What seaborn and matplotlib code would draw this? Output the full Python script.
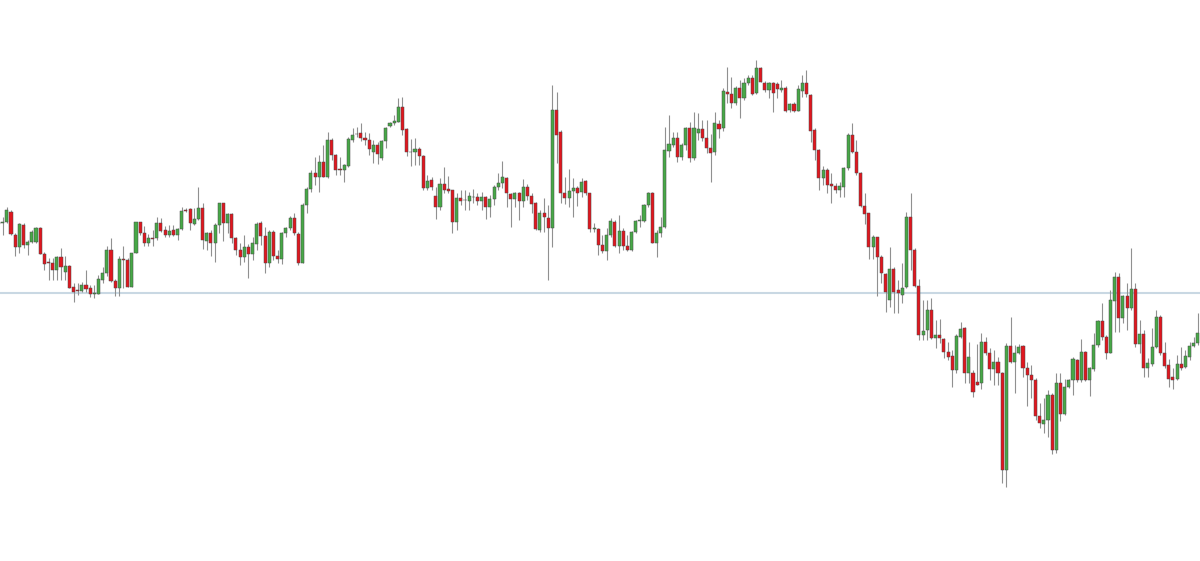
import numpy as np
import pandas as pd
import matplotlib
matplotlib.use("Agg")
import matplotlib.pyplot as plt
import seaborn as sns

# Candle values, given in pips below 1.1500
# (so a bigger number means a lower price).
open_pips = [
    224, 223.3, 221.7, 211.7, 235, 247, 225, 245, 241.7, 241.7,
    228.3, 254, 262, 262.7, 270, 257.3, 271.7, 266, 287, 290,
    290.7, 285, 288.3, 293.7, 294, 280, 273.3, 250, 280.7, 288.3,
    259.3, 260, 286.7, 253.3, 222.3, 233.3, 243.3, 238.3, 238.3, 223.3,
    230, 235, 230, 235, 229, 210, 209.3, 224, 219.3, 208.3,
    240.7, 232.7, 243.3, 225, 203.3, 223.3, 214, 238.3, 250, 256.7,
    246.7, 254, 244, 223.3, 235.7, 263.3, 231.7, 255.7, 259, 233.3,
    228.3, 217.7, 234, 263.3, 205, 189.3, 173.3, 177.3, 161.7, 177.3,
    140, 155, 169.3, 170, 166, 140, 134.3, 133.3, 138.3, 140,
    151.7, 145, 158.3, 141, 126, 123.3, 121.7, 106.7, 129.3, 151.5,
    151.7, 149.3, 156, 187.7, 180, 196, 207.3, 184, 189.3, 190,
    222.3, 198.3, 200, 200.7, 197.3, 196.7, 201, 197.3, 207.3, 199.3,
    187.3, 183.3, 178.3, 194.3, 199, 192.7, 201, 186.7, 196, 203.3,
    230, 213.3, 218.3, 228.3, 110, 131.7, 193.3, 198.3, 191, 188.3,
    191.7, 181, 193.3, 229, 229.3, 245, 250.7, 235, 221.7, 245.7,
    230.7, 245.7, 250, 231.7, 220.7, 220.7, 205, 192.7, 242.7, 233.3,
    227.3, 151, 145, 138.3, 156.7, 145, 128.3, 158.3, 133.3, 129,
    138.3, 147.7, 152.3, 124.3, 128.3, 91.7, 94.3, 102.7, 88.3, 98.3,
    83.3, 78.3, 93.3, 67.7, 82.7, 90, 83.3, 84, 90, 88.3,
    110, 104.3, 111, 90.7, 82.7, 95, 130, 150, 178.3, 170,
    184, 186, 190, 186.7, 167.7, 135, 151.7, 173.3, 205.7, 213.3,
    247.3, 237.3, 256.7, 274.3, 300, 269.3, 290, 295, 287.3, 217.3,
    250, 286, 335.3, 330, 310, 338.3, 335, 339.3, 351.7, 356,
    370, 336.7, 328.3, 373.3, 372.7, 382, 382.7, 341.7, 352.7, 369.3,
    361.7, 373.3, 470, 346, 361.7, 352.7, 346, 367.7, 375, 380,
    416, 424, 420, 395, 450, 382.7, 414, 387.3, 380, 360,
    380, 351.7, 380, 369.3, 345, 320.7, 337.3, 352.7, 300.7, 277.3,
    318.3, 296, 308.3, 289.3, 344, 334.3, 368.3, 364, 347.3, 317.3,
    352.7, 365, 376.7, 379.3, 364, 366.7, 356.7, 346, 343.3,
]
high_pips = [
    213, 216.7, 206.7, 210, 233, 223, 222.7, 240, 230, 226.7,
    227, 252, 258.3, 258.3, 256, 248.3, 256, 265, 282.7, 283.3,
    281.7, 270, 285, 285, 275, 266.7, 246, 238.3, 279.3, 256,
    246, 258.3, 253.3, 221.7, 221.7, 226, 234, 230, 216.7, 217.7,
    226, 225, 225, 228.3, 206.7, 208.3, 208.3, 208.3, 186.7, 203.3,
    231.7, 230, 223.3, 202.7, 202.7, 212.7, 212.7, 236.7, 242.7, 235,
    244, 236.7, 221.7, 220.7, 227.3, 230, 230, 250, 231.7, 226.7,
    216, 213.3, 232, 203.3, 186.7, 170, 157.3, 155, 145, 131.7,
    138.3, 154, 156.7, 164, 136.7, 128.3, 127.3, 123.3, 131.7, 132.7,
    140, 141.7, 140, 126.7, 121.7, 115, 98.3, 96.7, 128.3, 139.3,
    137.7, 146.7, 155, 175, 177.3, 186.7, 178.3, 167.3, 176, 190,
    193.3, 190, 190, 191.7, 189.3, 193.3, 191.7, 196, 195, 185,
    172.7, 161, 176.7, 193.3, 191.7, 191.7, 178.7, 184, 193.3, 201.7,
    210, 198.3, 205, 85, 91.7, 130, 176.7, 169.3, 177.7, 186,
    177.7, 180, 192.7, 223.3, 228.3, 235, 228.3, 218.3, 220, 215,
    228.3, 235, 230.7, 220, 215, 204, 191.7, 191.7, 230, 216.7,
    126.7, 115, 131.7, 131.7, 143.3, 126.7, 121.7, 111.7, 113.3, 120,
    120, 134.3, 111.7, 120, 88.3, 66.7, 76.7, 85.7, 80, 78.3,
    75, 75, 60, 66.7, 81, 81.7, 81.7, 81.7, 80, 85.7,
    103.3, 102.3, 85, 75, 70, 94.3, 128.3, 149.3, 166, 168.3,
    173.3, 182.7, 181.7, 166.7, 133.3, 122.7, 140, 171.7, 193.3, 212.7,
    235, 236.7, 255, 273.3, 246.7, 266.7, 280, 263.3, 211.7, 193.3,
    248.3, 279.3, 300, 300, 298.3, 320, 319.3, 338.3, 341.7, 350,
    334, 321.7, 326.7, 341.7, 370, 344, 332.7, 336.7, 348.3, 350,
    356.7, 371.7, 343.3, 316.7, 345, 344, 345, 361.7, 365, 378.3,
    403.3, 398.3, 390, 393.3, 372.7, 372.7, 379.3, 379.3, 357.3, 359.3,
    339.3, 350.7, 366.7, 333.3, 320, 302.7, 335, 290, 271.7, 273.3,
    295, 283.3, 248.3, 283.3, 320, 330, 358.3, 328.3, 310, 315,
    341.7, 359.3, 368.3, 355, 346.7, 350, 341.7, 336.7, 312.7,
]
low_pips = [
    226, 235, 223, 235, 256, 253, 248, 255, 243, 243.3,
    254, 270, 280, 280, 280, 280, 280, 288.3, 301.7, 295,
    291.7, 291.7, 296.7, 298.3, 294, 283.3, 276, 281.7, 296, 296,
    288.3, 286.7, 287, 253.3, 235, 246, 246, 246, 240, 231.7,
    236.7, 236.7, 236, 240, 230, 211.7, 230, 225, 220, 249.3,
    250, 255.7, 261.7, 232.7, 240.7, 232.7, 243.3, 255, 265, 261.7,
    278.3, 260, 250, 245, 273.3, 266.7, 260, 263.3, 264.3, 236.7,
    230, 235, 265, 263.3, 212.7, 191.7, 185, 191.7, 177.3, 178.3,
    160, 175, 175, 181.7, 166.7, 141.7, 136.7, 140.7, 145, 155,
    162.7, 164, 160, 148.3, 127.3, 125, 121.7, 135, 156, 166,
    165, 165, 190, 190, 190, 219.3, 210, 193.3, 192.7, 233.3,
    230, 205, 210, 210, 202.7, 205, 210, 219.3, 216.7, 205,
    190, 188.3, 207.3, 226.7, 206.7, 220, 206.7, 200, 213.3, 230,
    231.7, 231.7, 280, 246.7, 163.3, 203.3, 204, 206.7, 216.7, 206,
    196.7, 195, 231.7, 231.7, 255, 253.3, 260, 236.7, 246.7, 253.3,
    250, 250.7, 250.7, 233.3, 226.7, 221.7, 206.7, 243.3, 256.7, 236.7,
    228.3, 156.7, 146.7, 161.7, 160, 150, 161.7, 160, 140, 141,
    153.3, 181.7, 155, 138.3, 131, 103.3, 108.3, 105, 118.3, 100,
    85, 95, 94.3, 81.7, 91.7, 98.3, 111.7, 98.3, 91.7, 111.7,
    111.7, 111.7, 111, 97.3, 96.7, 141.7, 160, 190, 185, 192.7,
    202.7, 193.3, 196.7, 196.7, 170, 153.3, 175, 206.7, 224, 259.3,
    259.3, 296, 282.7, 311.7, 306.7, 313.3, 313.3, 302.7, 288.3, 270,
    286.7, 340, 340, 340, 339.3, 348.3, 343.3, 358.3, 360, 386.7,
    373.3, 338.3, 383.3, 383.3, 396.7, 385, 389.3, 355, 380, 385,
    385, 482.7, 486.7, 363.3, 392.7, 354, 376.7, 406, 398.3, 420,
    428.3, 433.3, 436.7, 454, 452.7, 420.7, 415, 388.3, 395, 381.7,
    381.7, 380.7, 396, 370.7, 346.7, 340, 359.3, 353.3, 331.7, 331.7,
    323.3, 330, 310, 346.7, 353.3, 376.7, 376.7, 366, 348.3, 355,
    368.3, 386.7, 389.3, 380, 370, 368.3, 360, 346.7, 345,
]
close_pips = [
    222, 221.7, 210, 234, 247, 224, 245, 241.7, 232, 228.3,
    254, 264, 263, 270, 257.3, 266.7, 266, 288.3, 291.7, 290.7,
    285, 289.3, 294, 293.3, 279, 273.3, 250, 280.7, 288.3, 259.3,
    260, 286.7, 253.3, 222.3, 233.3, 243.3, 237.7, 238.6, 223.3, 230.7,
    235, 231, 235, 229, 211, 210.5, 223.3, 219, 208.3, 240,
    233.3, 243.3, 225, 203.3, 223.3, 214, 238.3, 250, 256.7, 247.3,
    254, 243.3, 224, 235.7, 263.3, 231.7, 255.7, 259, 233.3, 228.3,
    217.7, 233.3, 263.3, 205, 189.3, 173.3, 177.3, 161.7, 177.3, 140,
    155, 170, 170.3, 165, 139.3, 135, 134, 138.3, 140, 149.3,
    145, 154, 141, 128.3, 122.7, 121, 106.7, 130, 152.3, 152,
    149.3, 156, 187.7, 180.7, 187.3, 207.3, 184, 190, 190.7, 222.3,
    198.3, 200.7, 200.3, 196, 197, 201, 196.7, 207.3, 199.3, 186.7,
    183.3, 177.3, 193.3, 199, 192.7, 201, 186.7, 196, 204, 229,
    212.7, 217.3, 228.3, 110, 135, 193.3, 198.3, 191, 188.3, 192.7,
    182.3, 193.3, 229.3, 227.7, 245, 250.7, 235, 220.7, 245.7, 230.7,
    245.7, 250, 231.7, 220.7, 220.3, 205, 192.7, 242.7, 232.7, 227.3,
    150, 144, 138.3, 156.7, 145, 128.3, 158.3, 128.3, 129.3, 137.7,
    148.3, 152.7, 123.3, 129, 91, 94.3, 102.7, 88.3, 98.3, 82.7,
    78.3, 94.3, 67.7, 81.7, 90, 83.3, 93.3, 89.3, 88.3, 111,
    104.3, 111, 89.3, 83.3, 94.3, 130.7, 150, 178.3, 170, 185,
    186, 190, 186, 167.7, 135, 151.7, 173.3, 205.7, 214.3, 247.3,
    236.7, 256.7, 273.3, 291.7, 269.3, 291.7, 293.3, 288.3, 217.3, 250,
    286, 335.3, 331, 310, 338.3, 335, 338.3, 351.7, 356.7, 370,
    336, 329, 373.3, 356.7, 391.7, 385, 341.7, 353.3, 369.3, 361.7,
    373.3, 470, 346, 361.7, 352.7, 346.7, 367.7, 375, 380, 416,
    423.3, 420, 395, 450, 382.7, 414, 387.3, 380, 359.3, 380,
    351.7, 380, 368.3, 345, 320.7, 337.3, 352.7, 300, 277.3, 318.3,
    296, 308.3, 289.3, 344, 334.3, 368.3, 363.3, 347.3, 317.3, 353.3,
    366, 379.3, 380, 364.3, 367.7, 356, 346, 343.3, 333.3,
]
level_pips = 293  # the horizontal support/resistance line

REF = 1.1500
PIP = 0.0001

df = pd.DataFrame({
    "open": REF - np.array(open_pips) * PIP,
    "high": REF - np.array(high_pips) * PIP,
    "low": REF - np.array(low_pips) * PIP,
    "close": REF - np.array(close_pips) * PIP,
})
df["x"] = np.arange(len(df))
df["up"] = df["close"] >= df["open"]
level = REF - level_pips * PIP

GREEN = "#47a847"
RED = "#e0171f"
EDGE = "#4a4a4a"
WICK = "#909090"

sns.set_theme(style="white")

fig = plt.figure(figsize=(12, 5.61), dpi=100)
ax = fig.add_axes([0, 0, 1, 1])

ax.axhline(level, color="#c9d8e3", linewidth=1.5, zorder=0)

# wicks
ax.vlines(df["x"], df["low"], df["high"], color=WICK, linewidth=0.8, zorder=1)

# bodies
body_bottom = df[["open", "close"]].min(axis=1)
body_height = (df["close"] - df["open"]).abs().clip(lower=0.00004)
colors = np.where(df["up"], GREEN, RED)
ax.bar(df["x"], body_height, bottom=body_bottom, width=0.74,
       color=colors, edgecolor=EDGE, linewidth=0.35, zorder=2)

ax.set_xlim(0.35, 288.5)
ax.set_ylim(REF - 561 * PIP, REF)
ax.set_axis_off()

fig.savefig("out.png", dpi=100, facecolor="white")
